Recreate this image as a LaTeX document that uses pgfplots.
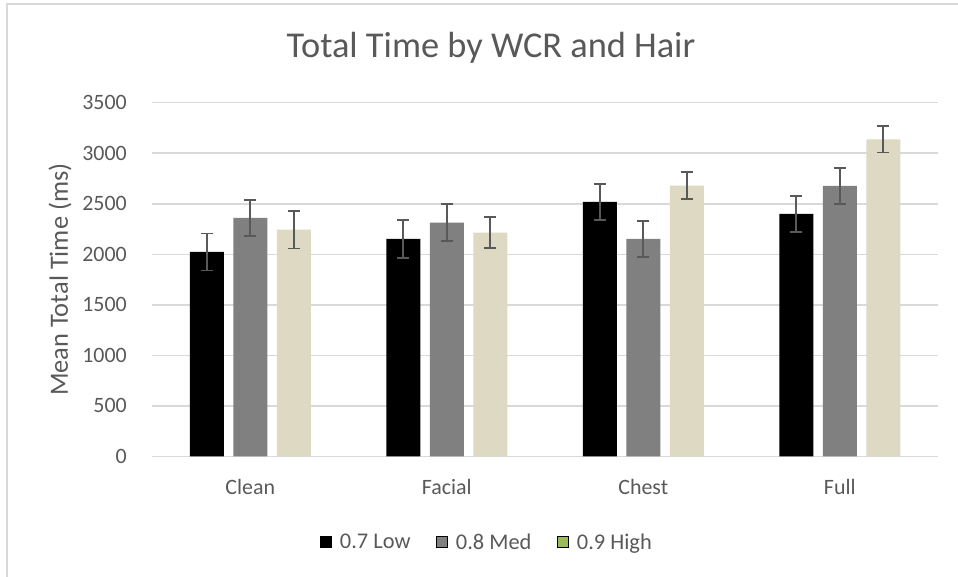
\documentclass[border=0pt]{standalone}
\usepackage{fontspec}
\setmainfont{Carlito}
\usepackage{pgfplots}
\pgfplotsset{compat=1.18}
\definecolor{txt}{HTML}{595959}
\definecolor{gridc}{HTML}{D9D9D9}
\definecolor{beige}{HTML}{DDD9C3}
\definecolor{lgreen}{HTML}{9BBB59}
\definecolor{medgray}{HTML}{808080}
\definecolor{errc}{HTML}{595959}

\pgfplotstableread{
x y err
0 2024 183
1 2152 185
2 2518 180
3 2400 177
}\low
\pgfplotstableread{
x y err
0 2360 180
1 2314 182
2 2152 180
3 2677 176
}\med
\pgfplotstableread{
x y err
0 2245 186
1 2215 155
2 2680 134
3 3136 130
}\high

\begin{document}
\begin{tikzpicture}[x=1bp,y=1bp]
\useasboundingbox (0,0) rectangle (958,577);
\draw[gridc, line width=1.5bp] (7,-50) rectangle (1000,573);
\node[anchor=base, text=txt, font=\fontsize{36.5}{40}\selectfont] at (491,519) {Total Time by WCR and Hair};
\begin{axis}[
  at={(152bp,120.5bp)}, anchor=south west,
  scale only axis, width=786bp, height=353.8bp,
  xmin=-0.5, xmax=3.5, ymin=0, ymax=3500,
  ybar, bar width=34bp,
  ytick={0,500,...,3500},
  xtick={0,1,2,3}, xticklabels={Clean,Facial,Chest,Full},
  axis line style={draw=none},
  tick style={draw=none}, major tick length=0pt,
  ymajorgrids, grid style={gridc, line width=1.5bp},
  /pgf/number format/assume math mode=true,
  /pgf/number format/1000 sep={},
  ticklabel style={text=txt, font=\fontsize{22}{26}\selectfont, inner sep=0pt},
  yticklabel style={anchor=east, xshift=-25bp},
  xticklabel style={anchor=base, yshift=-38.5bp},
  ylabel={Mean Total Time (ms)},
  ylabel style={at={(axis description cs:0,0.5)}, anchor=center, yshift=92bp, text=txt, font=\fontsize{26.5}{30}\selectfont},
  legend columns=3,
  legend style={draw=none, fill=none, at={(axis description cs:0.4245,-0.2417)}, anchor=center,
    font=\fontsize{22.5}{26}\selectfont, text=txt,
    nodes={inner sep=0pt},
    /tikz/every even column/.append style={column sep=25bp},
    /tikz/every odd column/.append style={column sep=9bp}},
  legend image code/.code={\fill[#1] (0bp,-5.5bp) rectangle (11bp,5.5bp);},
  error bars/y dir=both, error bars/y explicit,
  error bars/error bar style={errc, line width=1.7bp},
  error bars/error mark options={errc, line width=1.7bp, mark size=6bp, rotate=90},
]
\addplot[fill=black, draw=none, bar shift=-43.5bp, forget plot] table[x=x, y=y, y error=err] {\low};
\addplot[fill=medgray, draw=none, bar shift=0bp, forget plot] table[x=x, y=y, y error=err] {\med};
\addplot[fill=beige, draw=none, bar shift=43.5bp, forget plot] table[x=x, y=y, y error=err] {\high};
\addlegendimage{fill=black}
\addlegendentry{0.7 Low}
\addlegendimage{fill=medgray}
\addlegendentry{0.8 Med}
\addlegendimage{fill=lgreen}
\addlegendentry{0.9 High}
\end{axis}
\end{tikzpicture}
\end{document}
